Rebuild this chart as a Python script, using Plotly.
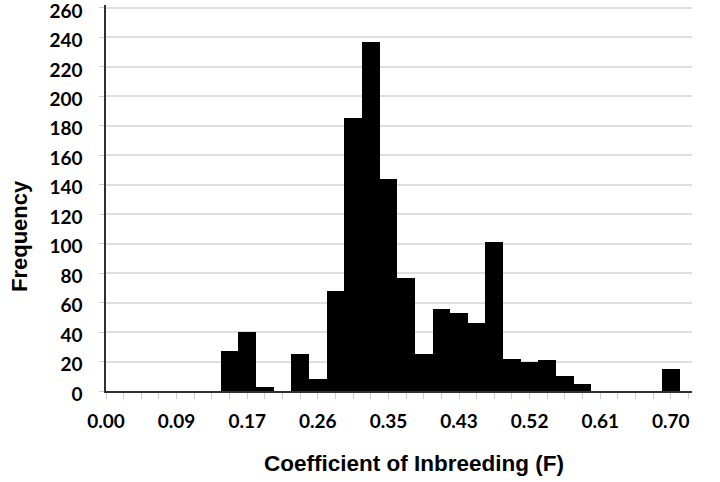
import plotly.graph_objects as go

# Histogram bins (category index along the axis) and their frequencies
bin_index = list(range(34))
frequency = [0, 0, 0, 0, 0, 0, 0, 27, 40, 3, 0, 25, 8, 68, 185, 237, 144, 77,
             25, 56, 53, 46, 101, 22, 20, 21, 10, 5, 0, 0, 0, 0, 15, 0]

# Tick labels shown every 4th bin
label_index = [0, 4, 8, 12, 16, 20, 24, 28, 32]
label_text = ["0.00", "0.09", "0.17", "0.26", "0.35", "0.43", "0.52", "0.61", "0.70"]

y_ticks = list(range(0, 261, 20))

tickvals = bin_index
ticktext = [label_text[label_index.index(i)] if i in label_index else "" for i in bin_index]

fig = go.Figure()
fig.add_trace(go.Bar(
    x=bin_index, y=frequency, width=1,
    marker=dict(color="black", line=dict(width=0)),
))

tickfont = dict(family="Lato", size=19, color="black", weight="bold")

L, R, T, B = 106, 28, 5, 91
W, H = 720, 482
pw, ph = W - L - R, H - T - B

fig.update_layout(
    width=W, height=H,
    margin=dict(l=L, r=R, t=T, b=B),
    plot_bgcolor="white", paper_bgcolor="white",
    showlegend=False, bargap=0,
    xaxis=dict(
        range=[0, 33.2], tickmode="array", tickvals=tickvals, ticktext=ticktext,
        ticks="outside", ticklen=6, tickcolor="#d0d0d0", tickwidth=1,
        showgrid=False, zeroline=False, automargin=False,
        showline=True, linecolor="#303030", linewidth=1.5,
        tickfont=tickfont, ticklabelstandoff=6, ticklabeloverflow="allow",
    ),
    yaxis=dict(
        range=[0, 262], tickmode="array", tickvals=y_ticks,
        ticks="outside", ticklen=5, tickcolor="#d0d0d0", tickwidth=1,
        showgrid=True, gridcolor="#dedede", gridwidth=1.5,
        zeroline=False, showline=True, linecolor="#303030", linewidth=1.5,
        tickfont=tickfont, ticklabelstandoff=13, ticklabelshift=3,
        automargin=False, ticklabeloverflow="allow",
    ),
    annotations=[
        dict(text="<b>Coefficient of Inbreeding (F)</b>", xref="paper", yref="paper",
             x=(414 - L) / pw, y=-(463 - (H - B)) / ph,
             xanchor="center", yanchor="middle", showarrow=False,
             font=dict(family="Liberation Sans", size=22.5, color="black")),
        dict(text="<b>Frequency</b>", xref="paper", yref="paper",
             x=-(L - 19) / pw, y=((H - B) - 236) / ph,
             xanchor="center", yanchor="middle", showarrow=False, textangle=-90,
             font=dict(family="Liberation Sans", size=22, color="black")),
    ],
)

fig.write_html("out.html", config={"displayModeBar": False},
               post_script="document.body.style.margin='0';")
